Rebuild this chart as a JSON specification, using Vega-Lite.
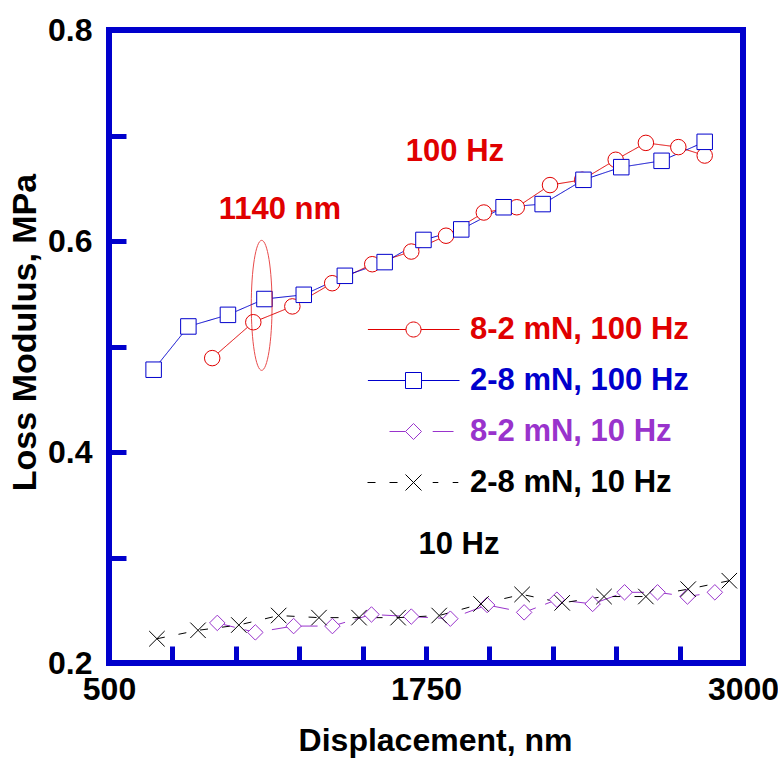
{
  "$schema": "https://vega.github.io/schema/vega-lite/v6.json",
  "width": 634,
  "height": 633,
  "autosize": {"type": "none"},
  "padding": {"left": 109, "top": 30, "right": 35, "bottom": 95},
  "background": "white",
  "config": {
    "font": "Liberation Sans",
    "view": {"stroke": "#0000cc", "strokeWidth": 6},
    "axis": {"grid": false, "domain": false}
  },
  "datasets": {
    "series": [
      {"series": "8-2 mN, 100 Hz", "nm": 907, "mpa": 0.489},
      {"series": "8-2 mN, 100 Hz", "nm": 1069, "mpa": 0.523},
      {"series": "8-2 mN, 100 Hz", "nm": 1223, "mpa": 0.538},
      {"series": "8-2 mN, 100 Hz", "nm": 1380, "mpa": 0.560},
      {"series": "8-2 mN, 100 Hz", "nm": 1538, "mpa": 0.578},
      {"series": "8-2 mN, 100 Hz", "nm": 1692, "mpa": 0.590},
      {"series": "8-2 mN, 100 Hz", "nm": 1829, "mpa": 0.605},
      {"series": "8-2 mN, 100 Hz", "nm": 1978, "mpa": 0.627},
      {"series": "8-2 mN, 100 Hz", "nm": 2108, "mpa": 0.632},
      {"series": "8-2 mN, 100 Hz", "nm": 2239, "mpa": 0.653},
      {"series": "8-2 mN, 100 Hz", "nm": 2366, "mpa": 0.658},
      {"series": "8-2 mN, 100 Hz", "nm": 2498, "mpa": 0.677},
      {"series": "8-2 mN, 100 Hz", "nm": 2617, "mpa": 0.693},
      {"series": "8-2 mN, 100 Hz", "nm": 2745, "mpa": 0.689},
      {"series": "8-2 mN, 100 Hz", "nm": 2849, "mpa": 0.681},
      {"series": "2-8 mN, 100 Hz", "nm": 676, "mpa": 0.478},
      {"series": "2-8 mN, 100 Hz", "nm": 813, "mpa": 0.519},
      {"series": "2-8 mN, 100 Hz", "nm": 969, "mpa": 0.530},
      {"series": "2-8 mN, 100 Hz", "nm": 1113, "mpa": 0.545},
      {"series": "2-8 mN, 100 Hz", "nm": 1268, "mpa": 0.549},
      {"series": "2-8 mN, 100 Hz", "nm": 1430, "mpa": 0.567},
      {"series": "2-8 mN, 100 Hz", "nm": 1587, "mpa": 0.580},
      {"series": "2-8 mN, 100 Hz", "nm": 1740, "mpa": 0.601},
      {"series": "2-8 mN, 100 Hz", "nm": 1889, "mpa": 0.611},
      {"series": "2-8 mN, 100 Hz", "nm": 2056, "mpa": 0.632},
      {"series": "2-8 mN, 100 Hz", "nm": 2210, "mpa": 0.635},
      {"series": "2-8 mN, 100 Hz", "nm": 2371, "mpa": 0.658},
      {"series": "2-8 mN, 100 Hz", "nm": 2520, "mpa": 0.670},
      {"series": "2-8 mN, 100 Hz", "nm": 2679, "mpa": 0.676},
      {"series": "2-8 mN, 100 Hz", "nm": 2849, "mpa": 0.694},
      {"series": "8-2 mN, 10 Hz", "nm": 927, "mpa": 0.238},
      {"series": "8-2 mN, 10 Hz", "nm": 1077, "mpa": 0.229},
      {"series": "8-2 mN, 10 Hz", "nm": 1228, "mpa": 0.235},
      {"series": "8-2 mN, 10 Hz", "nm": 1381, "mpa": 0.235},
      {"series": "8-2 mN, 10 Hz", "nm": 1535, "mpa": 0.246},
      {"series": "8-2 mN, 10 Hz", "nm": 1692, "mpa": 0.244},
      {"series": "8-2 mN, 10 Hz", "nm": 1846, "mpa": 0.242},
      {"series": "8-2 mN, 10 Hz", "nm": 1991, "mpa": 0.255},
      {"series": "8-2 mN, 10 Hz", "nm": 2137, "mpa": 0.248},
      {"series": "8-2 mN, 10 Hz", "nm": 2266, "mpa": 0.260},
      {"series": "8-2 mN, 10 Hz", "nm": 2407, "mpa": 0.256},
      {"series": "8-2 mN, 10 Hz", "nm": 2533, "mpa": 0.267},
      {"series": "8-2 mN, 10 Hz", "nm": 2663, "mpa": 0.267},
      {"series": "8-2 mN, 10 Hz", "nm": 2781, "mpa": 0.263},
      {"series": "8-2 mN, 10 Hz", "nm": 2889, "mpa": 0.267},
      {"series": "2-8 mN, 10 Hz", "nm": 689, "mpa": 0.223},
      {"series": "2-8 mN, 10 Hz", "nm": 851, "mpa": 0.231},
      {"series": "2-8 mN, 10 Hz", "nm": 1012, "mpa": 0.236},
      {"series": "2-8 mN, 10 Hz", "nm": 1169, "mpa": 0.245},
      {"series": "2-8 mN, 10 Hz", "nm": 1328, "mpa": 0.243},
      {"series": "2-8 mN, 10 Hz", "nm": 1486, "mpa": 0.243},
      {"series": "2-8 mN, 10 Hz", "nm": 1640, "mpa": 0.243},
      {"series": "2-8 mN, 10 Hz", "nm": 1802, "mpa": 0.245},
      {"series": "2-8 mN, 10 Hz", "nm": 1967, "mpa": 0.256},
      {"series": "2-8 mN, 10 Hz", "nm": 2129, "mpa": 0.265},
      {"series": "2-8 mN, 10 Hz", "nm": 2287, "mpa": 0.257},
      {"series": "2-8 mN, 10 Hz", "nm": 2452, "mpa": 0.263},
      {"series": "2-8 mN, 10 Hz", "nm": 2617, "mpa": 0.263},
      {"series": "2-8 mN, 10 Hz", "nm": 2784, "mpa": 0.270},
      {"series": "2-8 mN, 10 Hz", "nm": 2946, "mpa": 0.278}
    ],
    "rednotes": [
      {"text": "100 Hz", "nm": 1864, "mpa": 0.684},
      {"text": "1140 nm", "nm": 1174, "mpa": 0.629}
    ],
    "blacknotes": [
      {"text": "10 Hz", "nm": 1880, "mpa": 0.312}
    ],
    "ellipse": [
      {"nm": 1102, "mpa": 0.539}
    ]
  },
  "encoding": {
    "x": {
      "field": "nm", "type": "quantitative",
      "scale": {"domain": [500, 3000], "nice": false, "zero": false},
      "axis": {
        "title": "Displacement, nm",
        "values": [500, 750, 1000, 1250, 1500, 1750, 2000, 2250, 2500, 2750, 3000],
        "format": "d",
        "labelExpr": "indexof(['500','1750','3000'], datum.label) >= 0 ? datum.label : ''",
        "tickColor": "#0000cc", "tickWidth": 5, "tickSize": -17,
        "labelPadding": 28, "labelFontSize": 32, "labelFontWeight": "bold", "labelColor": "black",
        "labelFlush": false, "labelOverlap": false,
        "titleFontSize": 32, "titleFontWeight": "bold", "titleColor": "black",
        "titleX": 326, "titleY": 87, "titleBaseline": "alphabetic", "titleAlign": "center"
      }
    },
    "y": {
      "field": "mpa", "type": "quantitative",
      "scale": {"domain": [0.2, 0.8], "nice": false, "zero": false},
      "axis": {
        "title": "Loss Modulus, MPa",
        "values": [0.2, 0.3, 0.4, 0.5, 0.6, 0.7, 0.8],
        "format": ".1f",
        "labelExpr": "indexof(['0.2','0.4','0.6','0.8'], datum.label) >= 0 ? datum.label : ''",
        "tickColor": "#0000cc", "tickWidth": 5, "tickSize": -17,
        "labelPadding": 34, "labelFontSize": 32, "labelFontWeight": "bold", "labelColor": "black",
        "labelFlush": false, "labelOverlap": false,
        "titleFontSize": 34, "titleFontWeight": "bold", "titleColor": "black",
        "titleAngle": 270, "titleX": -74, "titleY": 302, "titleBaseline": "alphabetic", "titleAlign": "center"
      }
    }
  },
  "layer": [
    {
      "data": {"name": "series"},
      "mark": {"type": "line", "strokeWidth": 1},
      "encoding": {
        "color": {
          "field": "series", "type": "nominal", "legend": null,
          "scale": {
            "domain": ["8-2 mN, 100 Hz", "2-8 mN, 100 Hz", "8-2 mN, 10 Hz", "2-8 mN, 10 Hz"],
            "range": ["#e00000", "#0000cc", "#9933cc", "#000000"]
          }
        },
        "strokeDash": {
          "field": "series", "type": "nominal", "legend": null,
          "scale": {
            "domain": ["8-2 mN, 100 Hz", "2-8 mN, 100 Hz", "8-2 mN, 10 Hz", "2-8 mN, 10 Hz"],
            "range": [[1, 0], [1, 0], [18, 10], [8, 14]]
          }
        }
      }
    },
    {
      "data": {"name": "series"},
      "mark": {"type": "point", "filled": false, "fill": "white", "size": 240, "strokeWidth": 1, "opacity": 1},
      "encoding": {
        "color": {"field": "series", "type": "nominal", "legend": null},
        "shape": {
          "field": "series", "type": "nominal", "legend": null,
          "scale": {
            "domain": ["8-2 mN, 100 Hz", "2-8 mN, 100 Hz", "8-2 mN, 10 Hz", "2-8 mN, 10 Hz"],
            "range": ["circle", "square", "diamond", "M-1,-1L1,1M-1,1L1,-1"]
          }
        }
      }
    },
    {
      "data": {"name": "series"},
      "mark": {"type": "point", "filled": false, "size": 0},
      "encoding": {
        "color": {"field": "series", "type": "nominal", "legend": null},
        "shape": {
          "field": "series", "type": "nominal",
          "scale": {
            "domain": ["8-2 mN, 100 Hz", "2-8 mN, 100 Hz", "8-2 mN, 10 Hz", "2-8 mN, 10 Hz"],
            "range": [
              "M-5.7,0H-0.94M0.94,0H5.75M0.94,0A0.94,0.94,0,1,1,-0.94,0A0.94,0.94,0,1,1,0.94,0",
              "M-5.7,0H-1M1,0H5.75M-1,-1H1V1H-1Z",
              "M-3,0H-1M2.4,0H5M-1,0L0,-1L1,0L0,1Z",
              "M-5.75,0H-4.75M-3,0H-2M2.4,0H3.1M4.9,0H5.6M-1,-1L1,1M-1,1L1,-1"
            ]
          },
          "legend": {
            "orient": "none", "legendX": 289, "legendY": 284,
            "title": null,
            "symbolSize": 256, "symbolStrokeWidth": 1, "symbolOpacity": 1,
            "symbolStrokeColor": {"expr": "scale('color', datum.value)"},
            "symbolFillColor": "transparent",
            "labelColor": {"expr": "scale('color', datum.value)"},
            "labelFont": "Liberation Sans", "labelFontSize": 31, "labelFontWeight": "bold",
            "labelOffset": 41, "rowPadding": 19, "labelLimit": 400
          }
        }
      }
    },
    {
      "data": {"name": "ellipse"},
      "mark": {"type": "point", "filled": false, "stroke": "#e00000", "strokeWidth": 1, "size": 16900,
               "shape": "M0,-1A0.16,1,0,1,1,0,1A0.16,1,0,1,1,0,-1"}
    },
    {
      "data": {"name": "rednotes"},
      "mark": {"type": "text", "color": "#e00000", "fontSize": 31, "fontWeight": "bold", "align": "center", "baseline": "middle"},
      "encoding": {"text": {"field": "text"}}
    },
    {
      "data": {"name": "blacknotes"},
      "mark": {"type": "text", "color": "#000000", "fontSize": 31, "fontWeight": "bold", "align": "center", "baseline": "middle"},
      "encoding": {"text": {"field": "text"}}
    }
  ],
  "resolve": {"scale": {"shape": "independent"}, "legend": {"shape": "independent"}}
}
